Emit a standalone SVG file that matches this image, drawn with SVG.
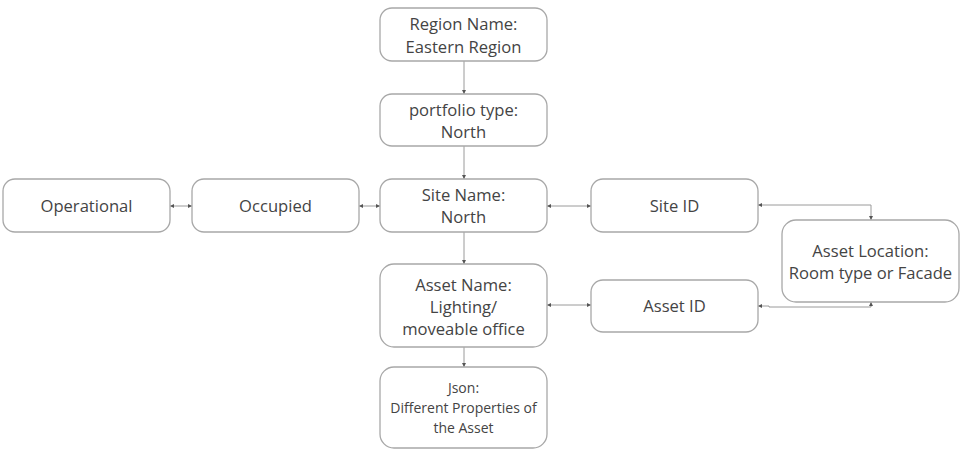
<svg xmlns="http://www.w3.org/2000/svg" width="960" height="450" viewBox="0 0 960 450">
<defs>
<style>
.box{fill:#fff;stroke:#a8a8a8;stroke-width:1.3}
.t{font-family:"Open Sans","Noto Sans",sans-serif;font-size:16.6px;fill:#444;text-anchor:middle}
.s{font-family:"Open Sans","Noto Sans",sans-serif;font-size:14px;fill:#444;text-anchor:middle}
.c{fill:none;stroke:#9a9a9a;stroke-width:1}
</style>
<marker id="a" viewBox="0 0 6 6" refX="6" refY="3" markerWidth="4" markerHeight="4" orient="auto-start-reverse" markerUnits="userSpaceOnUse"><path d="M0,0L6,3L0,6z" fill="#555"/></marker>
</defs>
<rect width="960" height="450" fill="#fff"/>
<g id="connectors">
<path class="c" d="M464,61V94" marker-end="url(#a)"/>
<path class="c" d="M464,146V179" marker-end="url(#a)"/>
<path class="c" d="M464,232V264" marker-end="url(#a)"/>
<path class="c" d="M464,347V367" marker-end="url(#a)"/>
<path class="c" d="M170,206H192" marker-start="url(#a)" marker-end="url(#a)"/>
<path class="c" d="M359,206H380" marker-start="url(#a)" marker-end="url(#a)"/>
<path class="c" d="M547,206H591" marker-start="url(#a)" marker-end="url(#a)"/>
<path class="c" d="M547,305H591" marker-start="url(#a)" marker-end="url(#a)"/>
<path class="c" d="M758,205H871V220" marker-start="url(#a)" marker-end="url(#a)"/>
<path class="c" d="M758,306H769V307H871V302" marker-start="url(#a)" marker-end="url(#a)"/>
</g>
<g id="region"><rect class="box" x="380" y="8" width="167" height="53" rx="12"/><text class="t" x="463.5" y="30">Region Name:</text><text class="t" x="463.5" y="53">Eastern Region</text></g>
<g id="portfolio"><rect class="box" x="380" y="94" width="167" height="52" rx="12"/><text class="t" x="463.5" y="116">portfolio type:</text><text class="t" x="463.5" y="138">North</text></g>
<g id="site"><rect class="box" x="380" y="179" width="167" height="53" rx="12"/><text class="t" x="463.5" y="201">Site Name:</text><text class="t" x="463.5" y="223">North</text></g>
<g id="operational"><rect class="box" x="3" y="179" width="167" height="53" rx="12"/><text class="t" x="86.5" y="212">Operational</text></g>
<g id="occupied"><rect class="box" x="192" y="179" width="167" height="53" rx="12"/><text class="t" x="275.5" y="212">Occupied</text></g>
<g id="siteid"><rect class="box" x="591" y="179" width="167" height="53" rx="12"/><text class="t" x="674.5" y="212">Site ID</text></g>
<g id="location"><rect class="box" x="782" y="220" width="177" height="82" rx="14"/><text class="t" x="870.5" y="257">Asset Location:</text><text class="t" x="870.5" y="279">Room type or Facade</text></g>
<g id="asset"><rect class="box" x="380" y="264" width="167" height="83" rx="14"/><text class="t" x="463.5" y="291">Asset Name:</text><text class="t" x="463.5" y="313">Lighting/</text><text class="t" x="463.5" y="335">moveable office</text></g>
<g id="assetid"><rect class="box" x="591" y="280" width="167" height="52" rx="12"/><text class="t" x="674.5" y="312">Asset ID</text></g>
<g id="json"><rect class="box" x="380" y="367" width="167" height="81" rx="14"/><text class="s" x="463.5" y="393">Json:</text><text class="s" x="463.5" y="413">Different Properties of</text><text class="s" x="463.5" y="433">the Asset</text></g>
</svg>
